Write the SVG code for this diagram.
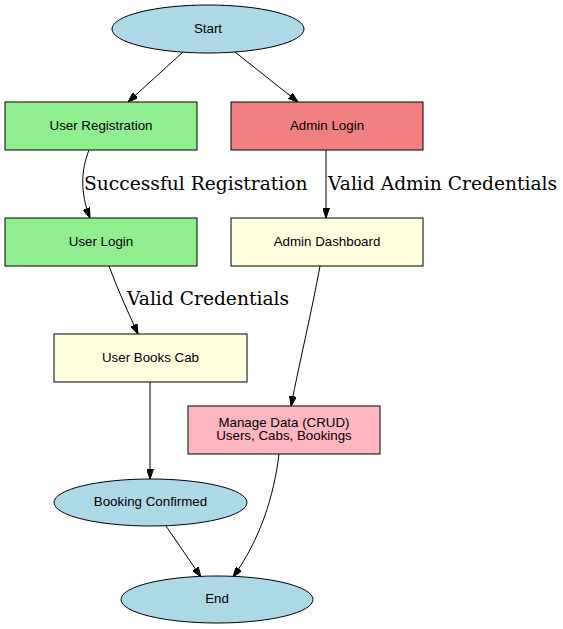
<svg xmlns="http://www.w3.org/2000/svg" width="563" height="629" viewBox="0 0 563 629">
<style>
.n{stroke:#000;stroke-width:1}
.t{font-family:"Liberation Sans",Arial,sans-serif;font-size:13.33px;text-anchor:middle;fill:#000}
.e{fill:none;stroke:#000;stroke-width:1;marker-end:url(#arr)}
.l{font-family:"DejaVu Serif",serif;font-size:18.67px;fill:#000}
</style>
<defs>
<marker id="arr" viewBox="0 0 10 7" refX="10" refY="3.5" markerWidth="10" markerHeight="7" markerUnits="userSpaceOnUse" orient="auto">
<path d="M0,0 L10,3.5 L0,7 z" fill="#000" stroke="#000" stroke-width="1"/>
</marker>
</defs>
<rect width="563" height="629" fill="#fff"/>
<g id="edges">
<path class="e" d="M183,52 L128,102"/>
<path class="e" d="M235,52 L298,102"/>
<path class="e" d="M89,150 C81,170 80,193 90,218"/>
<path class="e" d="M326,150 L326,218"/>
<path class="e" d="M109,266 C117,288 128,312 138,334"/>
<path class="e" d="M320,266 C312,310 300,360 291,406"/>
<path class="e" d="M150,382 L150,479"/>
<path class="e" d="M279,454 C274,496 260,540 233,577"/>
<path class="e" d="M166,526 L201,577"/>
<text class="l" x="84" y="190">Successful Registration</text>
<text class="l" x="328" y="190">Valid Admin Credentials</text>
<text class="l" x="127" y="305">Valid Credentials</text>
</g>
<g id="start"><ellipse class="n" cx="208" cy="29" rx="96" ry="24" fill="#add8e6"/><text class="t" x="208" y="32.5">Start</text></g>
<g id="user_registration"><rect class="n" x="5" y="102" width="192" height="48" fill="#90ee90"/><text class="t" x="101" y="129.5">User Registration</text></g>
<g id="admin_login"><rect class="n" x="231" y="102" width="192" height="48" fill="#f08080"/><text class="t" x="327" y="129.5">Admin Login</text></g>
<g id="user_login"><rect class="n" x="5" y="218" width="192" height="48" fill="#90ee90"/><text class="t" x="101" y="245.5">User Login</text></g>
<g id="admin_dashboard"><rect class="n" x="231" y="218" width="192" height="48" fill="#ffffe0"/><text class="t" x="327" y="245.5">Admin Dashboard</text></g>
<g id="user_books_cab"><rect class="n" x="54" y="334" width="193" height="48" fill="#ffffe0"/><text class="t" x="150.5" y="361.5">User Books Cab</text></g>
<g id="manage_data"><rect class="n" x="188" y="406" width="192" height="48" fill="#ffb6c1"/><text class="t" x="284" y="426.5">Manage Data (CRUD)</text><text class="t" x="284" y="440">Users, Cabs, Bookings</text></g>
<g id="booking_confirmed"><ellipse class="n" cx="150.5" cy="502.5" rx="96.5" ry="23.5" fill="#add8e6"/><text class="t" x="150.5" y="506">Booking Confirmed</text></g>
<g id="end"><ellipse class="n" cx="217" cy="599.5" rx="96" ry="23.5" fill="#add8e6"/><text class="t" x="217" y="603">End</text></g>
</svg>
